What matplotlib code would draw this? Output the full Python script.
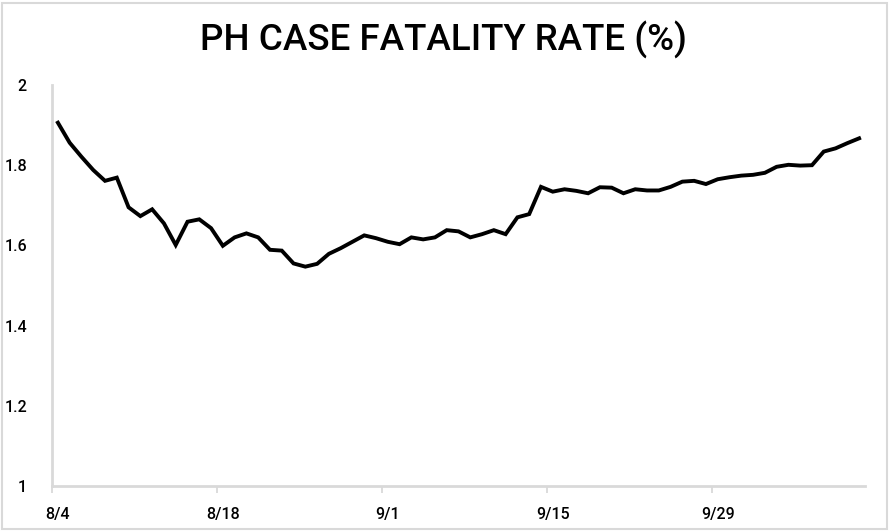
import numpy as np
import matplotlib
matplotlib.use('Agg')
import matplotlib.pyplot as plt
from matplotlib.patches import Rectangle

# Daily case fatality rate (%), 8/4 to 10/11
cfr = [
    1.906, 1.856, 1.821, 1.788, 1.761, 1.769, 1.695, 1.673, 1.690, 1.655,
    1.601, 1.659, 1.665, 1.643, 1.599, 1.620, 1.630, 1.620, 1.589, 1.587,
    1.555, 1.547, 1.554, 1.579, 1.593, 1.609, 1.625, 1.618, 1.609, 1.603,
    1.620, 1.615, 1.620, 1.638, 1.635, 1.620, 1.628, 1.638, 1.628, 1.670,
    1.678, 1.746, 1.734, 1.740, 1.736, 1.730, 1.745, 1.744, 1.730, 1.740,
    1.737, 1.737, 1.746, 1.759, 1.761, 1.753, 1.765, 1.770, 1.774, 1.776,
    1.781, 1.796, 1.801, 1.799, 1.800, 1.834, 1.842, 1.855, 1.867,
]
date_labels = ['8/4', '8/18', '9/1', '9/15', '9/29']
label_idx = [0, 14, 28, 42, 56]
y_ticks = [1, 1.2, 1.4, 1.6, 1.8, 2]
y_labels = ['1', '1.2', '1.4', '1.6', '1.8', '2']

plt.rcParams['font.family'] = ['Roboto', 'DejaVu Sans']
grey = '#d9d9d9'

fig = plt.figure(figsize=(8.89, 5.31), dpi=100)
ax = fig.add_axes([52 / 889, 45 / 531, (865 - 52) / 889, (486 - 85) / 531])

x = np.arange(len(cfr))
ax.plot(x, cfr, color='black', linewidth=2.8, solid_joinstyle='miter')

ax.set_xlim(-0.5, len(cfr) - 0.5)
ax.set_ylim(1, 2)

# category boundaries get tick marks, centres get the labels
ax.set_xticks([i - 0.5 for i in label_idx])
ax.set_xticklabels([])
ax.set_xticks(label_idx, minor=True)
ax.set_xticklabels(date_labels, minor=True, fontweight='medium')
ax.tick_params(axis='x', which='major', length=5, width=1.3, color=grey, direction='out')
ax.tick_params(axis='x', which='minor', length=0, pad=15, labelsize=11.5)

ax.set_yticks(y_ticks)
ax.set_yticklabels(y_labels, fontweight='medium')
ax.tick_params(axis='y', length=0, pad=18, labelsize=11.5)

for side in ['top', 'right']:
    ax.spines[side].set_visible(False)
for side in ['left', 'bottom']:
    ax.spines[side].set_color(grey)
    ax.spines[side].set_linewidth(2)

fig.text(443 / 889, 1 - 40 / 531, 'PH CASE FATALITY RATE (%)', ha='center', va='center',
         fontsize=26.5, fontweight='medium', color='black')

# chart border
fig.patches.append(Rectangle((1.5 / 889, 2.5 / 531), 885.5 / 889, 526 / 531,
                             transform=fig.transFigure, fill=False,
                             edgecolor=grey, linewidth=1.5))

fig.savefig('out.png', dpi=100)
